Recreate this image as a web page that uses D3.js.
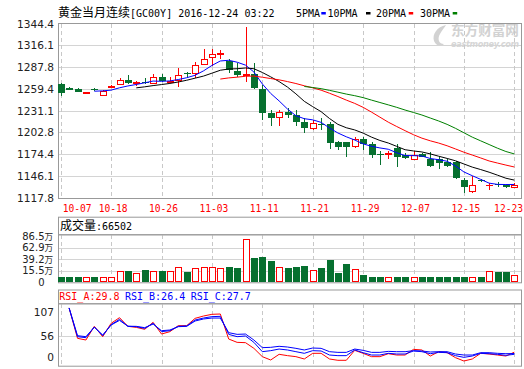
<!DOCTYPE html>
<html><head><meta charset="utf-8">
<script src="https://cdn.jsdelivr.net/npm/d3@7"></script>
<style>body{margin:0;background:#fff}svg{display:block}</style>
</head><body><svg id="c" width="524" height="369"></svg>
<script>
// ---------------- DATA ----------------
const dates = ["10-07","10-11","10-12","10-13","10-14","10-17","10-18","10-19","10-20","10-21","10-24","10-25","10-26","10-27","10-28","10-31","11-01","11-02","11-03","11-04","11-07","11-08","11-09","11-10","11-11","11-14","11-15","11-16","11-17","11-18","11-21","11-22","11-23","11-24","11-25","11-28","11-29","11-30","12-01","12-02","12-05","12-06","12-07","12-08","12-09","12-12","12-13","12-14","12-15","12-16","12-19","12-20","12-21","12-22","12-23"];
const open  = [1265.6,1259.9,1259.1,1253.9,1259.1,1250.8,1262.2,1265.2,1270.8,1266.5,1268.6,1266.5,1274.3,1268.2,1270.8,1280.4,1279.5,1291.2,1300.3,1305.1,1296.0,1282.5,1277.8,1278.6,1259.1,1227.4,1223.1,1229.2,1224.8,1216.6,1208.8,1214.0,1213.5,1190.1,1190.1,1185.3,1194.0,1187.5,1174.5,1174.5,1182.3,1173.2,1168.4,1174.5,1167.5,1167.5,1164.0,1164.0,1140.6,1126.7,1140.2,1133.5,1135.5,1134.5,1131.1];
const high  = [1266.5,1261.7,1260.4,1255.6,1260.8,1257.4,1263.9,1273.0,1277.3,1269.5,1273.0,1278.6,1278.6,1274.3,1286.0,1281.7,1294.7,1311.2,1310.8,1309.9,1297.7,1293.4,1340.3,1292.5,1264.3,1231.8,1231.8,1233.9,1231.8,1220.9,1218.7,1220.9,1216.6,1191.0,1190.5,1197.0,1197.0,1190.5,1178.8,1178.4,1187.0,1176.2,1178.8,1176.2,1177.5,1171.0,1167.5,1165.8,1142.8,1145.8,1141.5,1136.3,1138.4,1135.4,1136.3];
const low   = [1250.0,1257.4,1254.8,1253.0,1256.5,1250.4,1261.7,1264.3,1265.6,1263.0,1265.6,1265.2,1268.2,1266.9,1262.2,1275.2,1273.0,1290.4,1289.1,1298.2,1279.5,1275.2,1268.6,1259.1,1218.7,1210.9,1210.9,1221.8,1210.9,1202.2,1205.7,1205.7,1181.0,1179.7,1171.0,1181.8,1179.7,1168.8,1160.1,1167.5,1158.0,1167.5,1168.0,1170.1,1157.1,1154.5,1158.0,1141.9,1124.0,1124.0,1138.5,1127.6,1131.9,1129.8,1130.8];
const close = [1254.3,1258.2,1255.6,1254.8,1258.2,1256.5,1263.0,1270.8,1266.9,1267.8,1267.4,1274.3,1269.1,1269.5,1276.9,1279.1,1290.4,1297.7,1304.7,1306.0,1283.8,1277.8,1278.6,1260.0,1228.3,1221.8,1229.2,1225.7,1216.6,1208.8,1214.4,1212.7,1189.2,1184.0,1184.0,1193.5,1187.5,1173.6,1173.2,1175.3,1171.0,1168.8,1173.2,1171.0,1158.8,1163.2,1158.8,1142.8,1131.9,1134.1,1139.3,1134.5,1134.5,1131.1,1134.5];
// volume in 万 (10,000 lots)
const volume = [2.7,2.7,2.7,2.1,2.7,2.1,2.7,14.4,14.4,10.3,16.4,14.4,14.4,14.4,22.6,12.3,20.5,22.6,22.6,20.5,23.2,21.1,79.9,42.2,43.6,35.5,23.2,21.1,23.2,25.2,16.4,21.1,37.5,10.9,29.3,18.5,6.8,2.7,2.7,2.1,2.7,2.7,2.1,2.7,2.7,2.7,2.7,2.7,2.7,2.1,2.7,14.4,13.0,13.0,6.65];
const rsiA = [null,100,51.8,49.1,70.8,54.4,75.6,84.6,70.8,69.2,66.1,77.2,58.6,62.4,71.9,71.9,83.5,87.2,89.9,90.4,50.7,45.4,44.9,35.9,22.7,17.4,26.4,24.3,22.7,19.0,28.0,28.0,19.0,16.9,16.9,32.7,28.0,22.7,22.7,27.4,25.3,25.3,34.3,33.3,23.7,30.6,29.0,21.1,15.8,19.0,28.0,26.9,25.3,23.7,29.8];
const rsiB = [null,100,54.4,52.8,69.8,56.0,73.5,81.9,70.8,70.3,67.6,75.6,62.4,63.9,70.8,71.4,80.9,84.0,86.2,86.7,58.1,54.4,55.5,45.4,30.6,32.2,34.8,33.3,30.6,28.0,32.2,31.7,25.3,24.3,24.3,33.3,29.0,25.3,25.3,28.0,26.9,26.9,31.7,30.6,27.4,29.5,29.0,24.3,21.6,23.7,28.0,27.4,26.4,24.8,26.4];
const rsiC = [null,100,56.0,54.4,69.5,57.1,72.9,80.3,71.0,70.8,68.7,74.5,63.9,65.0,70.3,70.8,79.3,82.5,84.0,84.0,60.8,58.1,58.6,49.1,37.0,37.5,39.1,38.0,35.9,33.3,36.4,35.9,30.6,29.5,29.5,34.8,32.7,29.5,29.5,31.1,30.6,30.6,32.2,31.7,30.1,30.6,30.6,26.9,25.3,25.3,29.0,29.0,28.0,27.4,27.7];
const priceTicks = [1344.4,1316.1,1287.8,1259.4,1231.1,1202.8,1174.4,1146.1,1117.8];
const volTicks = [86.5,62.9,39.2,15.5,0];
const rsiTicks = [107,56,0];
const maPeriods = [5,10,20,30];
const maNames = ["5PMA","10PMA","20PMA","30PMA"];
const maColors = ["#0000ff","#000000","#ff0000","#008000"];
const titleCN = "黄金当月连续", titleEN = "[GC00Y] 2016-12-24 03:22";
const volTitleCN = "成交量", volTitleEN = ":66502";
const rsiNames = ["RSI_A:29.8","RSI_B:26.4","RSI_C:27.7"];
const rsiColors = ["#ff0000","#0000ff","#0000ff"];

// ---------------- LAYOUT ----------------
const L = 58, R = 522, W = 524;
const UP = "#ff0000", DOWN = "#06702f";
const GRID = "#d4d4d4", BORDER = "#999999", DASH = "#c8c8c8";
const mono = "'DejaVu Sans Mono', monospace", cjk = "'Noto Sans CJK SC', sans-serif", sans = "'DejaVu Sans', sans-serif";
const svg = d3.select("#c");

const x = d3.scalePoint().domain(dates).range([60.7, 514.3]);
const yP = d3.scaleLinear().domain([1117.8, 1344.4]).range([197.5, 23.5]);
const yV = d3.scaleLinear().domain([-8.17, 90.2]).range([282.3, 234.3]);
const yR = d3.scaleLinear().domain([8.34, 107.4]).range([365.7, 303.3]);
const dashIdx = dates.map((d,i)=>i).filter(i=>i%6===0);

function vDashes(y0,y1){
  svg.append("g").selectAll("line").data(dashIdx).join("line")
    .attr("x1",i=>Math.round(x(dates[i]))+0.5).attr("x2",i=>Math.round(x(dates[i]))+0.5)
    .attr("y1",y0).attr("y2",y1).attr("stroke",DASH).attr("stroke-dasharray","4,3");
}
function hGrid(scale, vals){
  svg.append("g").selectAll("line").data(vals).join("line")
    .attr("x1",L).attr("x2",R)
    .attr("y1",v=>Math.round(scale(v))+0.5).attr("y2",v=>Math.round(scale(v))+0.5)
    .attr("stroke",GRID);
}
function box(y0,y1){
  svg.append("rect").attr("x",L+0.5).attr("y",y0+0.5).attr("width",R-L-1).attr("height",y1-y0)
    .attr("fill","none").attr("stroke",BORDER);
}

// ---------- watermark ----------
svg.append("text").attr("x",451).attr("y",35).attr("font-weight","bold").attr("font-family",cjk)
  .attr("font-size",13.6).attr("fill","#d2d2d2").text("东方财富网");
svg.append("text").attr("x",451).attr("y",47.2).attr("font-weight","bold").attr("font-family",sans).attr("font-style","italic")
  .attr("font-size",8.2).attr("fill","#d6d6d6").attr("textLength",68).text("eastmoney.com");
svg.append("path").attr("d","M446,25 C437,27 432,34 434,41 C436,46 441,47 444,44 C439,44 437,39 440,34 C442,30 445,27 446,25 Z")
  .attr("fill","#d2d2d2");

// ---------- main panel ----------
hGrid(yP, priceTicks.slice(1,-1));
vDashes(24, 197);
box(23, 198);
svg.append("g").selectAll("text").data(priceTicks).join("text")
  .attr("x",54).attr("y",v=>yP(v)+4).attr("text-anchor","end")
  .attr("font-family",sans).attr("font-size",10.6).attr("fill","#222").text(v=>v.toFixed(1));

// title
const t = svg.append("text").attr("x",58).attr("y",17).attr("fill","#000");
t.append("tspan").attr("font-family",cjk).attr("font-size",12).text(titleCN);
t.append("tspan").attr("font-family",mono).attr("font-size",10).text(titleEN);
// legend
const legX = [296, 327.5, 376, 420], swX = [321.3, 366, 408.7, 452.7];
maNames.forEach((n,k)=>{
  svg.append("text").attr("x",legX[k]).attr("y",17).attr("font-family",mono).attr("font-size",10).attr("fill","#000").text(n);
  svg.append("rect").attr("x",swX[k]).attr("y",12).attr("width",4.5).attr("height",2.5).attr("fill",maColors[k]);
});

// candles
const cd = dates.map((d,i)=>({d,o:open[i],h:high[i],l:low[i],c:close[i],v:volume[i]}));
const cg = svg.append("g").attr("shape-rendering","crispEdges");
cd.forEach(k=>{
  const cx = Math.round(x(k.d));
  const up = k.c >= k.o, col = up ? UP : DOWN;
  const top = Math.round(yP(Math.max(k.o,k.c))), bot = Math.round(yP(Math.min(k.o,k.c)));
  cg.append("line").attr("x1",cx+0.5).attr("x2",cx+0.5).attr("y1",yP(k.h)).attr("y2",yP(k.l)).attr("stroke",col);
  if (up) {
    cg.append("rect").attr("x",cx-3+0.5).attr("y",top+0.5).attr("width",6).attr("height",Math.max(bot-top,0.01))
      .attr("fill","#fff").attr("stroke",col);
  } else {
    cg.append("rect").attr("x",cx-3).attr("y",top).attr("width",7).attr("height",Math.max(bot-top,1)).attr("fill",col);
  }
});
// moving averages
const lineP = d3.line().defined(d=>d!=null).x((d,i)=>x(dates[i])).y(d=>yP(d));
maPeriods.forEach((n,k)=>{
  const ma = close.map((c,i)=> i<n-1 ? null : d3.mean(close.slice(i-n+1,i+1)));
  svg.append("path").attr("d",lineP(ma)).attr("fill","none").attr("stroke",maColors[k]).attr("stroke-width",1);
});

// date labels (first starts at its tick, last kept inside the page)
const lastI = dashIdx[dashIdx.length-1];
svg.append("g").selectAll("text").data(dashIdx).join("text")
  .attr("x",i=> i===0 ? x(dates[i])+2 : (i===lastI ? W-1 : x(dates[i])+2))
  .attr("text-anchor",i=> i===0 ? "start" : (i===lastI ? "end" : "middle"))
  .attr("y",212).attr("font-family",mono).attr("font-size",9.6).attr("fill","#ff0000").text(i=>dates[i]);

// ---------- volume panel ----------
box(216.7, 234.3);
const vt = svg.append("text").attr("x",60).attr("y",230).attr("fill","#000");
vt.append("tspan").attr("font-family",cjk).attr("font-size",12).text(volTitleCN);
vt.append("tspan").attr("font-family",mono).attr("font-size",10).text(volTitleEN);
hGrid(yV, volTicks.slice(1,-1));
vDashes(235, 282);
box(234.3, 282.3);
const volLabY = (v,i)=> (i===volTicks.length-1 ? yV.range()[0] : yV(v)) + 3.6;
svg.append("g").selectAll("text").data(volTicks).join("text")
  .attr("x",44.5).attr("text-anchor","end").attr("fill","#222")
  .attr("y",volLabY).attr("font-family",sans).attr("font-size",10).text(v=>v===0?"0":v.toFixed(1));
svg.append("g").selectAll("text").data(volTicks.filter(v=>v!==0)).join("text")
  .attr("x",44.5).attr("fill","#222").attr("y",(v,i)=>volLabY(v,i)-0.2)
  .attr("font-family",cjk).attr("font-size",8.6).text("万");
const vg = svg.append("g").attr("shape-rendering","crispEdges");
cd.forEach(k=>{
  const cx = Math.round(x(k.d));
  const up = k.c >= k.o;
  const top = Math.round(yV(k.v)), bot = Math.round(yV.range()[0]);
  if (up) vg.append("rect").attr("x",cx-3+0.5).attr("y",top+0.5).attr("width",6).attr("height",bot-top-1).attr("fill","#fff").attr("stroke",UP);
  else vg.append("rect").attr("x",cx-3).attr("y",top).attr("width",7).attr("height",bot-top).attr("fill",DOWN);
});

// ---------- RSI panel ----------
box(289.5, 303.3);
const rx = [59.3, 125, 190.7];
rsiNames.forEach((n,k)=>svg.append("text").attr("x",rx[k]).attr("y",300).attr("font-family",mono).attr("font-size",10).attr("fill",rsiColors[k]).text(n));
hGrid(yR, [56]);
vDashes(304, 365);
box(303.3, 365.7);
svg.append("g").selectAll("text").data(rsiTicks).join("text")
  .attr("x",54).attr("text-anchor","end").attr("font-family",sans).attr("font-size",10.6).attr("fill","#222")
  .attr("y",v=> Math.min(Math.max(yR(v), yR.range()[1]+9), yR.range()[0]-9) + 4).text(v=>v);
const lineR = d3.line().defined(d=>d!=null).x((d,i)=>x(dates[i])).y(d=>yR(d));
[rsiA, rsiC, rsiB].forEach((s,k)=>{
  svg.append("path").attr("d",lineR(s)).attr("fill","none").attr("stroke",k===0?"#ff0000":"#0000ff").attr("stroke-width",1);
});
</script></body></html>
